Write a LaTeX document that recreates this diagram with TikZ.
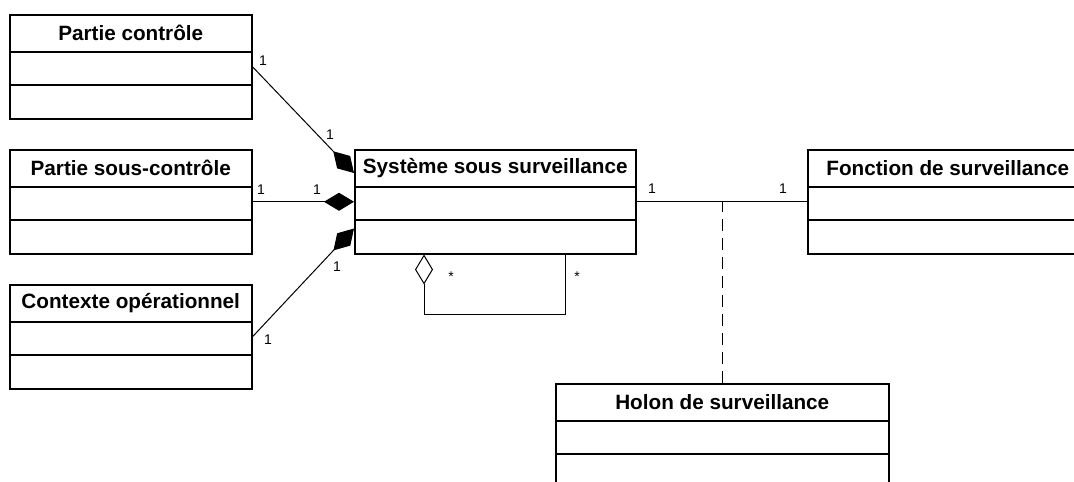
\documentclass[tikz,border=0pt]{standalone}
\usepackage{fontspec}
\setmainfont{Liberation Sans}
\usetikzlibrary{arrows.meta,calc}
\tikzset{
  clsbox/.style={draw, line width=1.5pt, anchor=north west, inner sep=0pt, minimum height=104pt},
  clsline/.style={line width=1.5pt},
  clstitle/.style={font=\fontsize{20.7}{24}\selectfont\bfseries, inner sep=0pt},
  assoc/.style={line width=1pt},
  comp/.style={assoc, -{Diamond[length=30pt,width=18pt,fill=black]}},
  aggr/.style={assoc, {Diamond[open,length=30pt,width=18pt,fill=white]}-},
  mult/.style={font=\fontsize{14}{16}\selectfont, inner sep=0pt},
  depline/.style={line width=1pt, dash pattern=on 12pt off 7pt}
}
\newcommand\umlclass[5]{%
  \node[clsbox, minimum width=#4pt] (#1) at (#2,#3) {};
  \node[clstitle] (#1t) at ($(#1.north)+(0,19)$) {#5};
  \draw[clsline] ($(#1.north west)+(0,38)$) -- ($(#1.north east)+(0,38)$);
  \draw[clsline] ($(#1.north west)+(0,71)$) -- ($(#1.north east)+(0,71)$);
}
\begin{document}
\begin{tikzpicture}[x=1pt,y=-1pt]
\useasboundingbox (0,0) rectangle (1074,482);
\umlclass{pc}{9}{14}{242}{Partie contrôle}
\umlclass{ps}{9}{149}{242}{Partie sous-contrôle}
\umlclass{co}{9}{284}{242}{Contexte opérationnel}
\umlclass{ss}{354}{149}{281}{Système sous surveillance}
\umlclass{fs}{807}{149}{280}{Fonction de surveillance}
\umlclass{hs}{555}{383}{333}{Holon de surveillance}
% compositions
\draw[comp] (pc.east) -- ($(ss.north west)+(0,24)$);
\draw[comp] (ps.east) -- (ss.west);
\draw[comp] (co.east) -- ($(ss.south west)+(0,-26)$);
% association
\draw[assoc] (ss.east) -- (fs.west);
\draw[depline] (hs.north) -- (hs.north |- ss.east);
% self aggregation
\draw[aggr] ($(ss.south west)+(70,0)$) -- ++(0,60) -| ($(ss.south west)+(211,0)$);
% multiplicities
\node[mult] (m1) at (263,61) {1};
\node[mult] (m2) at (330,135) {1};
\node[mult] (m3) at (261,190) {1};
\node[mult] (m4) at (317,190) {1};
\node[mult] (m5) at (337,267) {1};
\node[mult] (m6) at (268,340) {1};
\node[mult] (m7) at (652,189) {1};
\node[mult] (m8) at (783,189) {1};
\node[mult] (s1) at (451,277) {*};
\node[mult] (s2) at (577,277) {*};
\end{tikzpicture}
\end{document}
